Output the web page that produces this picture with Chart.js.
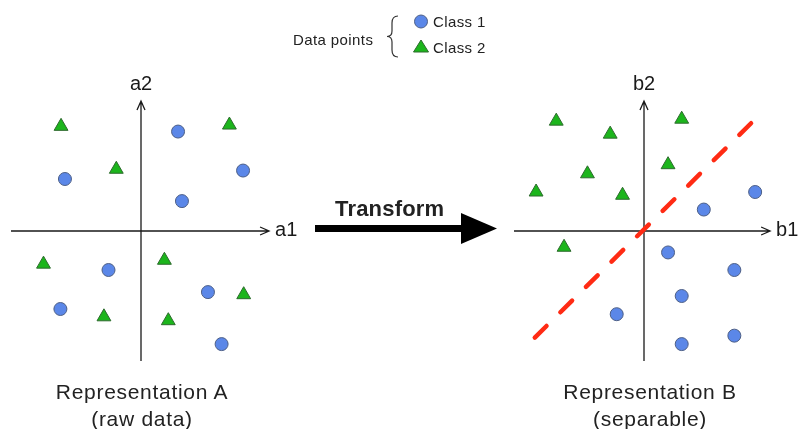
<!DOCTYPE html>
<html>
<head>
<meta charset="utf-8">
<script src="https://cdn.jsdelivr.net/npm/chart.js@4/dist/chart.umd.min.js"></script>
<style>
  body { margin: 0; background: #fff; font-family: "Liberation Sans", Arial, sans-serif; color: #222; }
  #page { position: relative; width: 801px; height: 429px; overflow: hidden; }
  canvas { position: absolute; }
  .txt { position: absolute; white-space: nowrap; line-height: 1; }
  .caption { font-size: 21px; letter-spacing: 0.7px; text-align: center; width: 260px; line-height: 27px; }
  svg { position: absolute; left: 0; top: 0; }
</style>
</head>
<body>
<div id="page">
  <canvas id="chartA" width="320" height="310" style="left:0;top:60px"></canvas>
  <canvas id="chartB" width="301" height="310" style="left:500px;top:60px"></canvas>

  <svg width="801" height="429">
    <!-- legend brace + markers -->
    <path d="M398 16 Q392 16 392 23 L392 31 Q392 36.5 387 36.5 Q392 36.5 392 42 L392 50 Q392 57 398 57" fill="none" stroke="#333" stroke-width="1.2"/>
    <circle cx="421" cy="21.5" r="6.5" fill="#5b87e8" stroke="#4d5f86" stroke-width="1"/>
    <polygon points="421,40 428.5,52 413.5,52" fill="#1cb51c" stroke="#2d6a2d" stroke-width="1"/>
    <!-- transform arrow -->
    <rect x="315" y="225" width="150" height="7" fill="#000"/>
    <polygon points="461,213 497,228.5 461,244" fill="#000"/>
  </svg>

  <div class="txt" style="left:293px;top:32px;font-size:15px;letter-spacing:0.4px">Data points</div>
  <div class="txt" style="left:433px;top:14px;font-size:15px;letter-spacing:0.4px">Class 1</div>
  <div class="txt" style="left:433px;top:40px;font-size:15px;letter-spacing:0.4px">Class 2</div>
  <div class="txt" style="left:335px;top:198px;font-size:22px;font-weight:bold;letter-spacing:0.2px">Transform</div>

  <div class="txt caption" style="left:12px;top:378px">Representation A<br>(raw data)</div>
  <div class="txt caption" style="left:520px;top:378px">Representation B<br>(separable)</div>
</div>

<script>
/* ---------- DATA ---------- */

const classNames = ["Class 1", "Class 2"];

// Representation A (raw data)
const rawClass1 = [
    { x: 2.85, y: 7.65 }, { x: -5.85, y: 4.0 }, { x: 7.85, y: 4.65 }, { x: 3.15, y: 2.3 },
    { x: -2.5, y: -3.0 }, { x: 5.15, y: -4.7 }, { x: -6.2, y: -6.0 }, { x: 6.2, y: -8.7 }
];
const rawClass2 = [
    { x: -6.15, y: 8.05 }, { x: 6.8, y: 8.15 }, { x: -1.9, y: 4.75 }, { x: -7.5, y: -2.55 },
    { x: 1.8, y: -2.25 }, { x: 7.9, y: -4.9 }, { x: -2.85, y: -6.6 }, { x: 2.1, y: -6.9 }
];

// Representation B (separable)
const sepClass1 = [
    { x: 8.55, y: 3.0 }, { x: 4.6, y: 1.65 }, { x: 1.85, y: -1.65 }, { x: 6.95, y: -3.0 },
    { x: 2.9, y: -5.0 }, { x: -2.1, y: -6.4 }, { x: 6.95, y: -8.05 }, { x: 2.9, y: -8.7 }
];
const sepClass2 = [
    { x: -6.75, y: 8.45 }, { x: -2.6, y: 7.45 }, { x: 2.9, y: 8.6 }, { x: 1.85, y: 5.1 },
    { x: -4.35, y: 4.4 }, { x: -8.3, y: 3.0 }, { x: -1.65, y: 2.75 }, { x: -6.15, y: -1.25 }
];
const separatorLine = [{ x: -8.4, y: -8.2 }, { x: 8.45, y: 8.5 }];

const axisRange = [-10, 10];

/* ---------- AXES THROUGH ORIGIN ---------- */

const crossAxes = {
    id: "crossAxes",
    beforeDatasetsDraw(chart, args, opts) {
        const { ctx, scales: { x, y } } = chart;
        const x0 = x.getPixelForValue(0);
        const y0 = y.getPixelForValue(0);
        const xl = x.getPixelForValue(axisRange[0]);
        const xr = x.getPixelForValue(opts.xEnd);
        const yb = y.getPixelForValue(axisRange[0]);
        const yt = y.getPixelForValue(axisRange[1]);

        ctx.save();
        ctx.strokeStyle = "#1a1a1a";
        ctx.lineWidth = 1.3;
        ctx.beginPath();
        ctx.moveTo(xl, y0); ctx.lineTo(xr, y0);
        ctx.moveTo(x0, yb); ctx.lineTo(x0, yt);
        // open arrow heads
        ctx.moveTo(xr - 9, y0 - 4); ctx.lineTo(xr, y0); ctx.lineTo(xr - 9, y0 + 4);
        ctx.moveTo(x0 - 4, yt + 9); ctx.lineTo(x0, yt); ctx.lineTo(x0 + 4, yt + 9);
        ctx.stroke();

        ctx.fillStyle = "#1a1a1a";
        ctx.font = "20px 'Liberation Sans', Arial, sans-serif";
        ctx.textBaseline = "middle";
        ctx.textAlign = "left";
        ctx.fillText(opts.xLabel, xr + 6, y0 - 1);
        ctx.textAlign = "center";
        ctx.fillText(opts.yLabel, x0, yt - 17);
        ctx.restore();
    }
};

/* ---------- CHARTS ---------- */

function pointSets(c1, c2) {
    return [
        {
            label: classNames[0],
            data: c1,
            pointStyle: "circle",
            pointRadius: 6.5,
            backgroundColor: "#5b87e8",
            borderColor: "#4d5f86",
            borderWidth: 1
        },
        {
            label: classNames[1],
            data: c2,
            pointStyle: "triangle",
            pointRadius: 8,
            backgroundColor: "#1cb51c",
            borderColor: "#2d6a2d",
            borderWidth: 1
        }
    ];
}

function makeChart(id, datasets, padding, axisOpts) {
    return new Chart(document.getElementById(id), {
        type: "scatter",
        data: { datasets },
        options: {
            responsive: false,
            animation: false,
            events: [],
            layout: { padding },
            scales: {
                x: { type: "linear", min: axisRange[0], max: axisRange[1], display: false },
                y: { type: "linear", min: axisRange[0], max: axisRange[1], display: false }
            },
            plugins: {
                legend: { display: false },
                tooltip: { enabled: false },
                crossAxes: axisOpts
            }
        },
        plugins: [crossAxes]
    });
}

makeChart("chartA",
    pointSets(rawClass1, rawClass2),
    { left: 11, right: 49, top: 41, bottom: 9 },
    { xLabel: "a1", yLabel: "a2", xEnd: 9.85 });

makeChart("chartB",
    [
        {
            label: "separator",
            data: separatorLine,
            showLine: true,
            pointRadius: 0,
            borderColor: "#ff2b14",
            borderWidth: 4.5,
            borderDash: [16.5, 19.5],
            borderCapStyle: "round"
        },
        ...pointSets(sepClass1, sepClass2)
    ],
    { left: 14, right: 27, top: 41, bottom: 9 },
    { xLabel: "b1", yLabel: "b2", xEnd: 9.7 });
</script>
</body>
</html>
